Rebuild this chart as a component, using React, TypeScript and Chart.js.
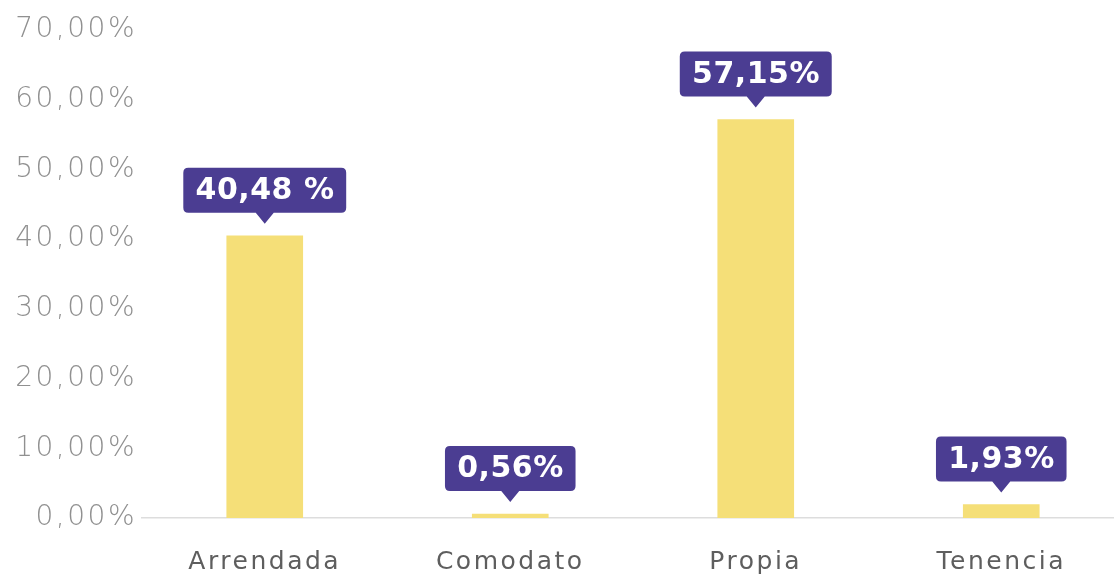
import React, { useEffect, useRef } from "react";
import { Chart, registerables } from "chart.js";

Chart.register(...registerables);

const categories = ["Arrendada", "Comodato", "Propia", "Tenencia"];
const values = [40.48, 0.56, 57.15, 1.93];
const valueLabels = ["40,48 %", "0,56%", "57,15%", "1,93%"];
const yTicks = [0, 10, 20, 30, 40, 50, 60, 70];

const BAR_COLOR = "#F5DF78";
const BADGE_COLOR = "#4B3D92";

const spacingPlugin = {
  id: "spacing",
  beforeDraw(chart: any) {
    chart.ctx.letterSpacing = "2.5px";
  },
};

const badgePlugin = {
  id: "badges",
  afterDatasetsDraw(chart: any) {
    const ctx = chart.ctx;
    const meta = chart.getDatasetMeta(0);
    ctx.save();
    ctx.letterSpacing = "0.5px";
    ctx.font = "bold 30px 'DejaVu Sans'";
    meta.data.forEach((bar: any, i: number) => {
      const text = valueLabels[i];
      const x = bar.x;
      const tip = bar.y - 12;
      const boxBottom = tip - 11;
      const h = 45;
      const boxTop = boxBottom - h;
      const tw = ctx.measureText(text).width;
      const w = tw + 24;
      const left = x - w / 2;
      const r = 5;
      ctx.fillStyle = BADGE_COLOR;
      ctx.beginPath();
      ctx.moveTo(left + r, boxTop);
      ctx.lineTo(left + w - r, boxTop);
      ctx.quadraticCurveTo(left + w, boxTop, left + w, boxTop + r);
      ctx.lineTo(left + w, boxBottom - r);
      ctx.quadraticCurveTo(left + w, boxBottom, left + w - r, boxBottom);
      ctx.lineTo(x + 9, boxBottom);
      ctx.lineTo(x, tip);
      ctx.lineTo(x - 9, boxBottom);
      ctx.lineTo(left + r, boxBottom);
      ctx.quadraticCurveTo(left, boxBottom, left, boxBottom - r);
      ctx.lineTo(left, boxTop + r);
      ctx.quadraticCurveTo(left, boxTop, left + r, boxTop);
      ctx.closePath();
      ctx.fill();
      ctx.fillStyle = "#FFFFFF";
      ctx.textAlign = "center";
      ctx.textBaseline = "middle";
      ctx.fillText(text, x + 0.25, boxTop + h / 2 + 1);
    });
    ctx.restore();
  },
};

export default function App() {
  const ref = useRef<HTMLCanvasElement | null>(null);
  useEffect(() => {
    if (!ref.current) return;
    const chart = new Chart(ref.current, {
      type: "bar",
      data: {
        labels: categories,
        datasets: [
          {
            data: values,
            backgroundColor: BAR_COLOR,
            barThickness: 76,
          },
        ],
      },
      options: {
        responsive: false,
        animation: false,
        devicePixelRatio: 1,
        layout: { padding: { top: 30, right: 6, left: 0, bottom: 0 } },
        plugins: { legend: { display: false }, tooltip: { enabled: false } },
        scales: {
          x: {
            grid: { display: false },
            border: { display: true, color: "#DDDDDD", width: 1.5 },
            ticks: {
              color: "#5E5E5E",
              font: { family: "'DejaVu Sans'", size: 25 },
              padding: 21,
            },
            afterFit(scale: any) {
              scale.height = 57;
            },
          },
          y: {
            min: 0,
            max: 70,
            afterBuildTicks(scale: any) {
              scale.ticks = yTicks.map((v) => ({ value: v }));
            },
            grid: { display: false },
            border: { display: false },
            ticks: {
              color: "#909090",
              font: { family: "'DejaVu Sans'", size: 28, weight: "300" },
              padding: -3,
              callback: (v: any) => Number(v).toFixed(2).replace(".", ",") + "%",
            },
            afterFit(scale: any) {
              scale.width = 142;
            },
          },
        },
      },
      plugins: [spacingPlugin, badgePlugin],
    });
    return () => chart.destroy();
  }, []);
  return (
    <div
      style={{
        position: "fixed",
        left: 0,
        top: 0,
        width: 1114,
        height: 575,
        overflow: "hidden",
        background: "#FFFFFF",
      }}
    >
      <canvas ref={ref} width={1130} height={575} style={{ display: "block" }} />
    </div>
  );
}
